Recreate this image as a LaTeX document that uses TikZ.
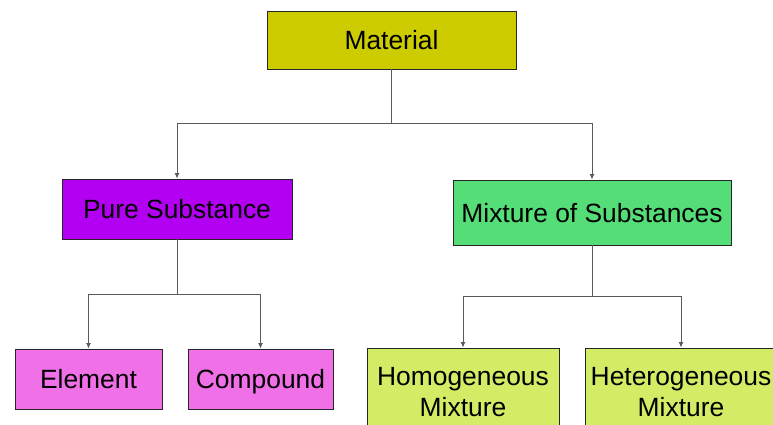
\documentclass[tikz,border=0pt]{standalone}
\usepackage{fontspec}
\setmainfont{Liberation Sans}
\usetikzlibrary{arrows.meta}
\definecolor{matcol}{HTML}{CCCC00}
\definecolor{purecol}{HTML}{B400F2}
\definecolor{mixcol}{HTML}{55DD77}
\definecolor{pinkcol}{HTML}{F070E8}
\definecolor{limecol}{HTML}{D2EC66}
\definecolor{linecol}{HTML}{5A5A5A}
\tikzset{
  box/.style={draw=black!85, line width=0.9pt, inner sep=0pt, align=center,
    font=\fontsize{26.4}{31}\selectfont, text=black},
  one/.style={text height=19pt, text depth=0pt},
  conn/.style={draw=linecol, line width=1pt},
  arr/.style={conn, -{Latex[length=5.5pt,width=5pt]}}
}
\begin{document}
\begin{tikzpicture}[x=1pt,y=-1pt]
\useasboundingbox (0,0) rectangle (773,425);
\clip (0,0) rectangle (773,425);
\node[box, one, fill=matcol, minimum width=249pt, minimum height=58pt] (mat) at (391.5,40) {Material};
\node[box, one, fill=purecol, minimum width=230pt, minimum height=60pt] (pure) at (177,209) {Pure Substance};
\node[box, one, fill=mixcol, minimum width=278pt, minimum height=65pt] (mix) at (592,212.5) {Mixture of Substances};
\node[box, one, fill=pinkcol, minimum width=147pt, minimum height=60pt] (elem) at (88.5,379) {Element};
\node[box, one, fill=pinkcol, minimum width=145pt, minimum height=60pt] (comp) at (260.5,379) {Compound};
\node[box, fill=limecol, minimum width=192pt, minimum height=88pt] (homo) at (463,392) {Homogeneous\\Mixture};
\node[box, fill=limecol, minimum width=192pt, minimum height=88pt] (hete) at (681,392) {Heterogeneous\\Mixture};
\coordinate (j1) at (391.5,124);
\coordinate (j2) at (177,294);
\coordinate (j3) at (592,296);
\draw[conn] (mat.south) -- (j1);
\draw[arr] (j1) -| (pure.north);
\draw[arr] (j1) -| (mix.north);
\draw[conn] (pure.south) -- (j2);
\draw[arr] (j2) -| (elem.north);
\draw[arr] (j2) -| (comp.north);
\draw[conn] (mix.south) -- (j3);
\draw[arr] (j3) -| (homo.north);
\draw[arr] (j3) -| (hete.north);
\end{tikzpicture}
\end{document}
